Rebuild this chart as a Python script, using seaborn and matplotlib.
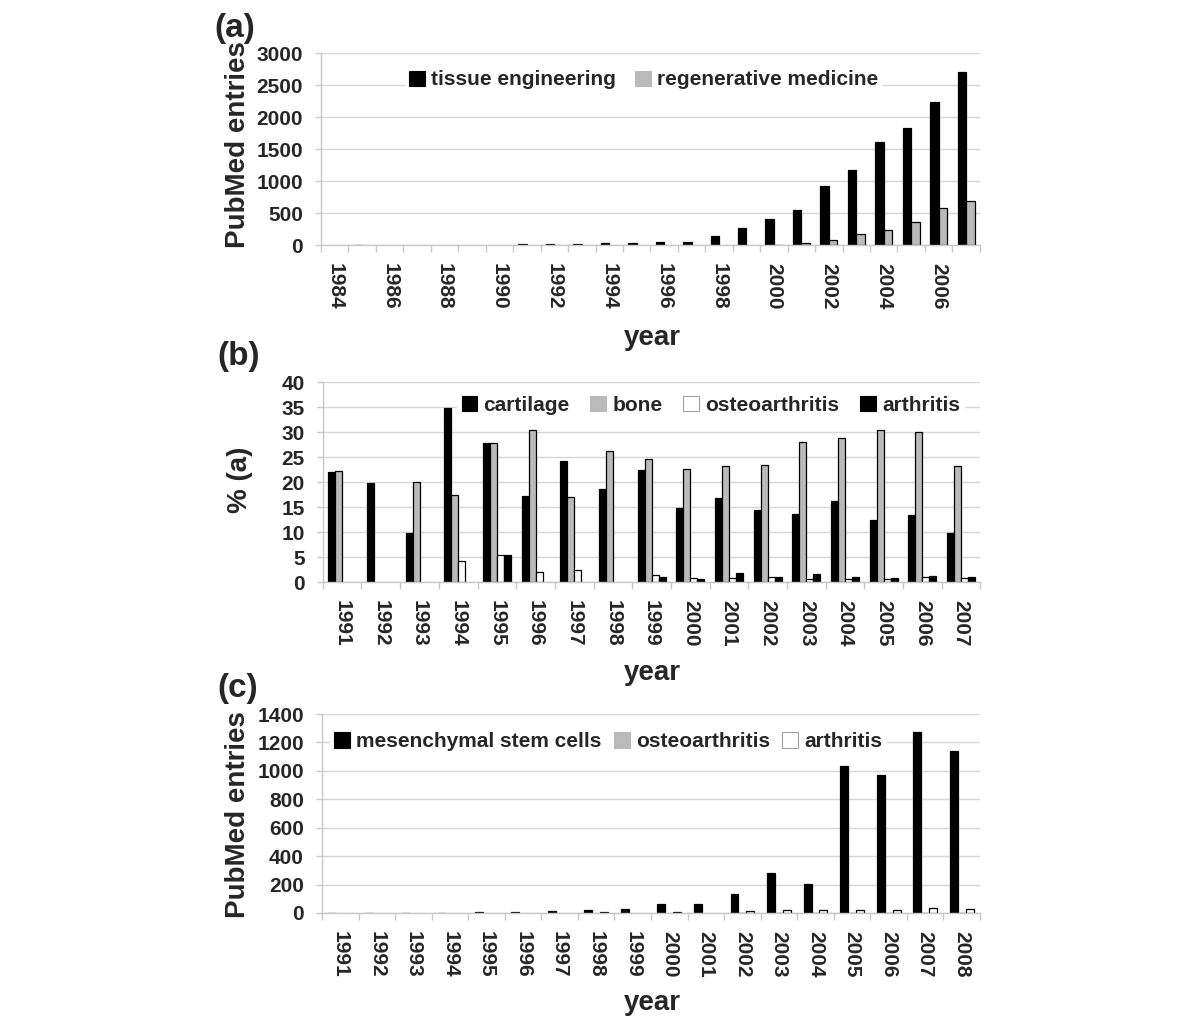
import numpy as np
import pandas as pd
import matplotlib
matplotlib.use("Agg")
import matplotlib.pyplot as plt
from matplotlib.patches import Patch
import seaborn as sns

# (a) PubMed entries per year
years_a = [1984, 1985, 1986, 1987, 1988, 1989, 1990, 1991, 1992, 1993, 1994, 1995,
           1996, 1997, 1998, 1999, 2000, 2001, 2002, 2003, 2004, 2005, 2006, 2007]
tissue_eng = [0, 8, 0, 0, 0, 0, 0, 10, 15, 15, 25, 25,
              50, 50, 135, 260, 410, 555, 925, 1180, 1610, 1830, 2230, 2710]
regen_med = [0, 0, 0, 0, 0, 0, 0, 0, 0, 0, 0, 0,
             0, 0, 0, 0, 8, 25, 72, 167, 235, 366, 581, 684]

# (b) percentage of (a)
years_b = [1991, 1992, 1993, 1994, 1995, 1996, 1997, 1998, 1999, 2000, 2001, 2002,
           2003, 2004, 2005, 2006, 2007]
cartilage = [22.1, 19.9, 9.9, 34.8, 27.8, 17.3, 24.3, 18.6, 22.5, 14.9, 16.9, 14.5,
             13.7, 16.3, 12.4, 13.5, 9.9]
bone = [22.3, 0, 20.0, 17.4, 27.8, 30.4, 17.1, 26.2, 24.6, 22.7, 23.3, 23.4,
        28.1, 28.8, 30.5, 30.0, 23.2]
osteo_b = [0, 0, 0, 4.3, 5.5, 2.1, 2.4, 0, 1.5, 0.9, 0.9, 1.1,
           0.7, 0.7, 0.7, 1.1, 0.8]
arth_b = [0, 0, 0, 0, 5.5, 0, 0, 0, 1.1, 0.7, 1.9, 1.1,
          1.6, 1.1, 0.9, 1.2, 1.0]

# (c) PubMed entries, mesenchymal stem cells
years_c = [1991, 1992, 1993, 1994, 1995, 1996, 1997, 1998, 1999, 2000, 2001, 2002,
           2003, 2004, 2005, 2006, 2007, 2008]
msc = [1, 1, 2, 3, 5, 8, 14, 21, 30, 61, 66, 133, 283, 204, 1037, 969, 1276, 1143]
osteo_c = [0, 0, 0, 0, 0, 0, 0, 0, 0, 0, 0, 1, 2, 2, 3, 3, 3, 3]
arth_c = [0, 0, 0, 0, 0, 0, 0, 5, 0, 9, 0, 12, 19, 19, 19, 21, 35, 30]

BLACK = "#000000"
GRAY = "#bababa"
WHITE = "#ffffff"

sns.set_theme(style="white")
plt.rcParams["font.family"] = ["Liberation Sans", "DejaVu Sans"]
plt.rcParams["font.weight"] = "bold"
plt.rcParams["axes.labelweight"] = "bold"

fig = plt.figure(figsize=(12, 10.24), dpi=100)


def panel(rect, years, series, colors, width, ylim, ystep, tick_every, leg_anchor, leg_ncol, colspace):
    ax = fig.add_axes(rect)
    df = pd.DataFrame({"year": [str(y) for y in years]})
    for name, vals in series.items():
        df[name] = vals
    long = df.melt(id_vars="year", var_name="series", value_name="value")
    pal = dict(zip(series.keys(), colors))
    sns.barplot(data=long, x="year", y="value", hue="series", palette=pal,
                width=width, edgecolor="black", linewidth=0.9, legend=False,
                errorbar=None, ax=ax)
    # empty years: no outline
    for p in ax.patches:
        if p.get_height() == 0:
            p.set_linewidth(0)
    n = len(years)
    ax.set_xlim(-0.5, n - 0.5)
    ax.set_ylim(*ylim)
    ax.set_yticks(np.arange(ylim[0], ylim[1] + ystep / 2, ystep))
    idx = list(range(0, n, tick_every))
    ax.set_xticks(idx)
    ax.set_xticklabels([str(years[i]) for i in idx], rotation=-90, va="top", ha="center")
    ax.set_xticks(np.arange(-0.5, n, 1), minor=True)
    ax.set_xlabel("")
    ax.set_ylabel("")
    ax.yaxis.grid(True, color="#d6d6d6", linewidth=1)
    ax.set_axisbelow(True)
    for s in ["top", "right"]:
        ax.spines[s].set_visible(False)
    for s in ["left", "bottom"]:
        ax.spines[s].set_color("#c8c8c8")
        ax.spines[s].set_linewidth(1)
    ax.tick_params(axis="x", which="major", bottom=True, length=0, pad=13, labelsize=15)
    ax.tick_params(axis="x", which="minor", bottom=True, length=5, color="#c8c8c8", width=1)
    ax.tick_params(axis="y", left=True, length=4, color="#c8c8c8", width=1, pad=9, labelsize=15)
    handles = []
    for c in colors:
        ec = "#a0a0a0" if c == WHITE else c
        handles.append(Patch(facecolor=c, edgecolor=ec, linewidth=0.8))
    leg = ax.legend(handles, list(series.keys()), loc="center", bbox_to_anchor=leg_anchor,
                    ncol=leg_ncol, frameon=True, fontsize=15, handlelength=0.75,
                    handleheight=0.75, handletextpad=0.3, columnspacing=colspace,
                    borderpad=0.2)
    leg.get_frame().set_facecolor("white")
    leg.get_frame().set_edgecolor("white")
    leg.get_frame().set_alpha(1)
    return ax


panel([0.2675, 0.7607, 0.549, 0.1875], years_a,
      {"tissue engineering": tissue_eng, "regenerative medicine": regen_med},
      [BLACK, GRAY], 0.62, (0, 3000), 500, 2, (0.49, 0.86), 2, 0.9)

panel([0.269, 0.4316, 0.548, 0.1953], years_b,
      {"cartilage": cartilage, "bone": bone, "osteoarthritis": osteo_b, "arthritis": arth_b},
      [BLACK, GRAY, WHITE, BLACK], 0.72, (0, 40), 5, 1, (0.59, 0.885), 4, 1.0)

panel([0.2683, 0.1084, 0.5484, 0.1943], years_c,
      {"mesenchymal stem cells": msc, "osteoarthritis": osteo_c, "arthritis": arth_c},
      [BLACK, GRAY, WHITE], 0.65, (0, 1400), 200, 1, (0.435, 0.86), 3, 0.6)

# panel letters
fig.text(0.179, 1 - 28 / 1024, "(a)", fontsize=24, fontweight="bold", va="center", ha="left")
fig.text(0.181, 1 - 356 / 1024, "(b)", fontsize=24, fontweight="bold", va="center", ha="left")
fig.text(0.181, 1 - 689 / 1024, "(c)", fontsize=24, fontweight="bold", va="center", ha="left")

# axis titles
fig.text(238 / 1200, 1 - 145 / 1024, "PubMed entries", fontsize=20, fontweight="bold",
         rotation=90, va="center", ha="center")
fig.text(240 / 1200, 1 - 480 / 1024, "% (a)", fontsize=20, fontweight="bold",
         rotation=90, va="center", ha="center")
fig.text(238 / 1200, 1 - 815 / 1024, "PubMed entries", fontsize=20, fontweight="bold",
         rotation=90, va="center", ha="center")
for yy in [338, 673, 1003]:
    fig.text(652 / 1200, 1 - yy / 1024, "year", fontsize=20, fontweight="bold",
             va="center", ha="center")

fig.savefig("out.png", dpi=100, facecolor="white")
